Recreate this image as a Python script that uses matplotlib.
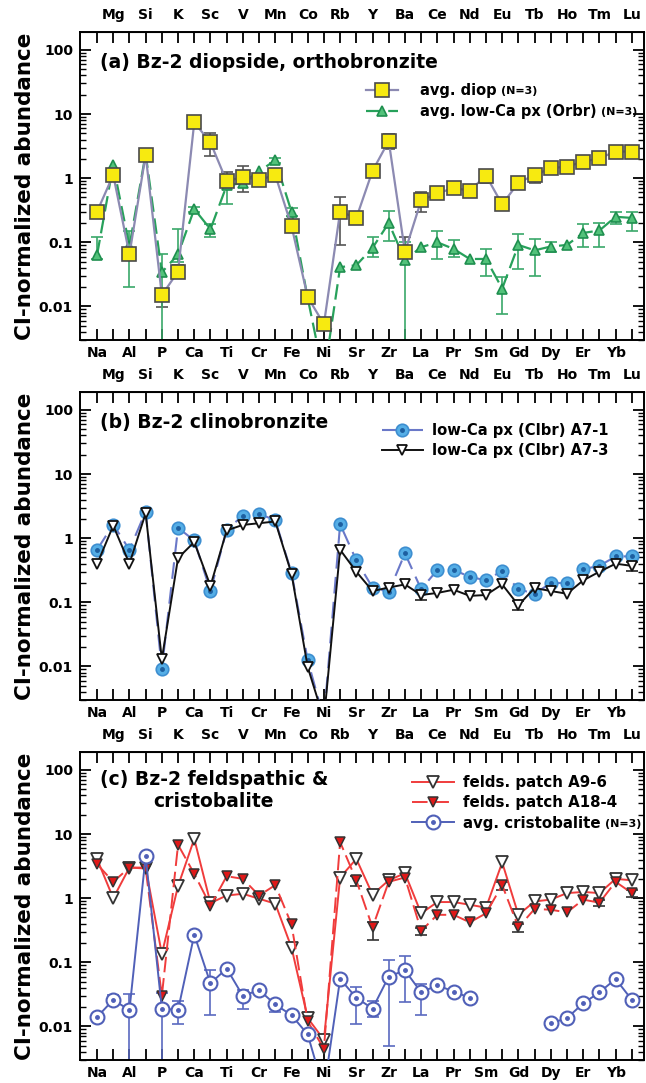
import matplotlib
matplotlib.use('Agg')

import matplotlib.pyplot as plt
import numpy as np
from matplotlib.ticker import FixedLocator, LogLocator, NullFormatter
from matplotlib.legend_handler import HandlerTuple

nan = np.nan

elements = ['Na', 'Mg', 'Al', 'Si', 'P', 'K', 'Ca', 'Sc', 'Ti', 'V', 'Cr', 'Mn', 'Fe', 'Co',
            'Ni', 'Rb', 'Sr', 'Y', 'Zr', 'Ba', 'La', 'Ce', 'Pr', 'Nd', 'Sm', 'Eu', 'Gd', 'Tb',
            'Dy', 'Ho', 'Er', 'Tm', 'Yb', 'Lu']

# (a) averages
diop = [0.30, 1.12, 0.065, 2.3, 0.015, 0.035, 7.4, 3.6, 0.89, 1.05, 0.94, 1.12, 0.18, 0.014,
        0.0053, 0.30, 0.24, 1.3, 3.8, 0.071, 0.45, 0.58, 0.70, 0.64, 1.1, 0.39, 0.85, 1.12,
        1.43, 1.52, 1.8, 2.05, 2.6, 2.6]
diop_lo = [0.25, 1.0, 0.055, nan, 0.0098, 0.028, nan, 2.2, 0.75, 0.6, nan, nan, 0.16, 0.012,
           0.0046, 0.09, nan, 1.1, 2.9, 0.06, 0.3, 0.48, nan, nan, 0.85, nan, nan, 0.85,
           1.25, 1.35, 1.6, nan, 2.4, nan]
diop_hi = [0.35, 1.25, 0.08, nan, 0.019, 0.045, nan, 5.0, 1.24, 1.54, nan, nan, 0.21, 0.016,
           0.006, 0.5, nan, 1.5, 4.9, 0.12, 0.6, 0.7, nan, nan, 1.35, nan, nan, 1.35,
           1.7, 1.7, 2.05, nan, 2.9, nan]

orbr = [0.063, 1.6, 0.087, 2.4, 0.034, 0.065, 0.33, 0.16, 0.77, 0.84, 1.28, 1.9, 0.30, 0.0135,
        0.0008, 0.041, 0.044, 0.082, 0.20, 0.053, 0.084, 0.10, 0.079, 0.055, 0.055, 0.019,
        0.091, 0.075, 0.086, 0.091, 0.14, 0.153, 0.25, 0.24]
orbr_lo = [0.055, nan, 0.02, nan, 0.001, 0.05, 0.3, 0.12, 0.4, nan, nan, 1.7, 0.26, nan,
           nan, nan, nan, 0.06, 0.105, 0.001, nan, 0.055, 0.06, nan, 0.03, 0.0077,
           0.039, 0.03, 0.07, nan, 0.085, 0.085, 0.19, 0.15]
orbr_hi = [0.12, nan, 0.15, nan, 0.065, 0.16, 0.36, 0.19, 1.0, nan, nan, 2.1, 0.34, nan,
           nan, nan, nan, 0.12, 0.31, 0.1, nan, 0.15, 0.11, nan, 0.08, 0.029,
           0.137, 0.112, 0.1, nan, 0.19, 0.2, 0.3, 0.3]

# (b) clinobronzite
a7_1 = [0.66, 1.63, 0.66, 2.6, 0.0092, 1.45, 0.92, 0.15, 1.35, 2.25, 2.4, 1.9, 0.29, 0.0125,
        0.0015, 1.65, 0.45, 0.17, 0.145, 0.58, 0.16, 0.32, 0.32, 0.25, 0.22, 0.31, 0.16,
        0.136, 0.20, 0.20, 0.33, 0.37, 0.52, 0.52]
a7_3 = [0.39, 1.57, 0.40, 2.45, 0.013, 0.49, 0.87, 0.18, 1.32, 1.61, 1.71, 1.82, 0.28, 0.0098,
        0.0015, 0.66, 0.30, 0.15, 0.17, 0.19, 0.13, 0.14, 0.157, 0.126, 0.13, 0.19, 0.09,
        0.167, 0.15, 0.136, 0.22, 0.30, 0.40, 0.37]
a7_3_lo = [nan] * 20 + [0.11] + [nan] * 5 + [0.075] + [nan] * 6 + [0.31]
a7_3_hi = [nan] * 20 + [0.145] + [nan] * 5 + [0.105] + [nan] * 6 + [0.42]

# (c) feldspathic patches and cristobalite
a9_6 = [4.1, 1.0, 3.0, 3.0, 0.135, 1.55, 8.4, 0.84, 1.1, 1.17, 0.98, 0.82, 0.17, 0.0135,
        0.0062, 2.1, 4.1, 1.14, 1.9, 2.45, 0.58, 0.87, 0.87, 0.79, 0.71, 3.6, 0.55, 0.89,
        0.95, 1.2, 1.25, 1.2, 2.0, 1.9]
a18_4 = [3.4, 1.8, 3.0, 2.9, 0.03, 6.8, 2.4, 0.76, 2.2, 2.0, 1.1, 1.6, 0.39, 0.012,
         0.0045, 7.5, 1.9, 0.35, 1.8, 2.1, 0.31, 0.55, 0.55, 0.42, 0.58, 1.6, 0.35, 0.68,
         0.66, 0.6, 0.95, 0.85, 1.8, 1.2]
a18_4_lo = [nan] * 16 + [1.55, 0.22] + [nan] * 2 + [0.27] + [nan] * 4 + [1.35, 0.3] + [nan] * 4 + [0.75, nan, 1.05]
a18_4_hi = [nan] * 16 + [2.2, 0.42] + [nan] * 2 + [0.34] + [nan] * 4 + [1.8, 0.4] + [nan] * 4 + [0.95, nan, 1.35]

crist = [0.014, 0.026, 0.018, 4.5, 0.019, 0.018, 0.27, 0.047, 0.08, 0.03, 0.037, 0.022, 0.015,
         0.0075, 0.001, 0.055, 0.028, 0.019, 0.06, 0.075, 0.034, 0.044, 0.035, 0.028,
         nan, nan, nan, nan, 0.0112, 0.0135, 0.023, 0.034, 0.055, 0.026]
crist_lo = [nan, 0.022, 0.001, nan, 0.001, 0.011, nan, 0.015, nan, 0.019, nan, 0.017, nan,
            nan, nan, nan, 0.011, 0.014, 0.005, 0.024, 0.015] + [nan] * 13
crist_hi = [nan, 0.031, 0.032, nan, 0.033, 0.025, nan, 0.075, nan, 0.037, nan, 0.026, nan,
            nan, nan, nan, 0.041, 0.025, 0.11, 0.125, 0.046] + [nan] * 13

plt.rcParams['font.family'] = ['DejaVu Sans']
plt.rcParams['font.weight'] = 'bold'
plt.rcParams['axes.labelweight'] = 'bold'

x = np.arange(len(elements))
bottom_labels = [e if i % 2 == 0 else '' for i, e in enumerate(elements)]
top_labels = [e if i % 2 == 1 else '' for i, e in enumerate(elements)]

W, H = 646, 1083
fig = plt.figure(figsize=(W / 100, H / 100), dpi=100)


def make_axes(top_px):
    ax = fig.add_axes([80 / W, 1 - (top_px + 308) / H, 564 / W, 308 / H])
    ax.set_yscale('log')
    ax.set_ylim(0.003, 190)
    ax.set_xlim(-1.05, 33.75)
    ax.yaxis.set_major_locator(FixedLocator([0.01, 0.1, 1, 10, 100]))
    ax.set_yticklabels(['0.01', '0.1', '1', '10', '100'])
    ax.yaxis.set_minor_locator(LogLocator(base=10, subs=np.arange(2, 10)))
    ax.yaxis.set_minor_formatter(NullFormatter())
    ax.set_xticks(x, bottom_labels)
    ax.tick_params(axis='y', which='major', direction='in', length=8, width=1.3,
                   right=True, labelsize=10, pad=5)
    ax.tick_params(axis='y', which='minor', direction='in', length=4, width=1, right=True)
    ax.tick_params(axis='x', direction='in', length=8, width=1.3, top=True,
                   labelsize=10, pad=4)
    sec = ax.secondary_xaxis('top')
    sec.set_xticks(x, top_labels)
    sec.tick_params(direction='in', length=0, labelsize=10, pad=7)
    for sp in ax.spines.values():
        sp.set_linewidth(1.4)
    ax.set_ylabel('CI-normalized abundance', fontsize=15.5, fontweight='bold')
    ax.yaxis.set_label_coords(-0.08, 0.5)
    return ax


def add_errors(ax, vals, lo, hi, color):
    v = np.array(vals, dtype=float)
    lo = np.array(lo, dtype=float)
    hi = np.array(hi, dtype=float)
    m = ~np.isnan(lo)
    ax.errorbar(x[m], v[m], yerr=[v[m] - lo[m], hi[m] - v[m]], fmt='none', ecolor=color,
                elinewidth=1.2, capsize=4.5, capthick=1.2, zorder=2)


def add_suffix(text_obj, s):
    r = fig.canvas.get_renderer()
    bb = text_obj.get_window_extent(r)
    fig.text((bb.x1 + 4) / W, (bb.y0 + bb.y1) / 2 / H - 0.001, s, fontsize=8, va='center')


# ---- (a)
ax = make_axes(32)
add_errors(ax, diop, diop_lo, diop_hi, '#555555')
add_errors(ax, orbr, orbr_lo, orbr_hi, '#3aa86a')
l1, = ax.plot(x, diop, '-', color='#8c8ab2', lw=1.6, marker='s', ms=10,
              mfc='#f7ea10', mec='#4a4a4a', mew=1.2, zorder=4)
l2, = ax.plot(x, orbr, ls=(0, (7, 3)), color='#27a15b', lw=1.6, marker='^', ms=7.5,
              mfc='#52c27a', mec='#1f8f4f', mew=1.2, zorder=3)
ax.text(0.035, 0.90, '(a) Bz-2 diopside, orthobronzite', transform=ax.transAxes,
        fontsize=13.5, va='center', ha='left')
leg_a = ax.legend([l1, l2], ['avg. diop', 'avg. low-Ca px (Orbr)'], loc='upper left',
                  bbox_to_anchor=(0.507, 0.835), frameon=False, borderpad=0, borderaxespad=0,
                  handlelength=2.2, handletextpad=1.5, labelspacing=0.4, fontsize=10.5)

# ---- (b)
ax = make_axes(392)
add_errors(ax, a7_3, a7_3_lo, a7_3_hi, '#222222')
b1, = ax.plot(x, a7_1, ls=(0, (8, 4)), color='#6a78c8', lw=1.5, marker='o', ms=9,
              mfc='#55aee6', mec='#3d8ed0', mew=1.2, zorder=3)
b1d, = ax.plot(x, a7_1, ls='none', marker='o', ms=2.5, mfc='#1d5fa0', mec='#1d5fa0', zorder=3)
b2, = ax.plot(x, a7_3, '-', color='#111111', lw=1.4, marker='v', ms=7,
              mfc='white', mec='#111111', mew=1.3, zorder=4)
ax.text(0.035, 0.90, '(b) Bz-2 clinobronzite', transform=ax.transAxes,
        fontsize=13.5, va='center', ha='left')
ax.legend([(b1, b1d), b2], ['low-Ca px (Clbr) A7-1', 'low-Ca px (Clbr) A7-3'],
          handler_map={tuple: HandlerTuple(ndivide=1)}, loc='upper left',
          bbox_to_anchor=(0.535, 0.898), frameon=False, borderpad=0, borderaxespad=0,
          handlelength=2.8, handletextpad=0.6, labelspacing=0.3, fontsize=10.6)

# ---- (c)
ax = make_axes(752)
add_errors(ax, a18_4, a18_4_lo, a18_4_hi, '#333333')
add_errors(ax, crist, crist_lo, crist_hi, '#5a6ac0')
c1, = ax.plot(x, a9_6, '-', color='#f03c3c', lw=1.4, marker='v', ms=8.5,
              mfc='white', mec='#333333', mew=1.3, zorder=3)
c2, = ax.plot(x, a18_4, ls=(0, (8, 3)), color='#f03c3c', lw=1.4, marker='v', ms=7.5,
              mfc='#e01818', mec='#333333', mew=1.1, zorder=3)
c3, = ax.plot(x, crist, '-', color='#5060b8', lw=1.4, marker='o', ms=10,
              mfc='white', mec='#5060b8', mew=1.5, zorder=4)
c3d, = ax.plot(x, crist, ls='none', marker='o', ms=2.5, mfc='#5060b8', mec='#5060b8', zorder=4)
ax.text(0.035, 0.875, '(c) Bz-2 feldspathic &\ncristobalite', transform=ax.transAxes,
        fontsize=13.5, va='center', ha='left', multialignment='center', linespacing=1.15)
leg_c = ax.legend([c1, c2, (c3, c3d)], ['felds. patch A9-6', 'felds. patch A18-4',
                                        'avg. cristobalite'],
                  handler_map={tuple: HandlerTuple(ndivide=1)}, loc='upper left',
                  bbox_to_anchor=(0.589, 0.925), frameon=False, borderpad=0, borderaxespad=0,
                  handlelength=2.8, handletextpad=0.6, labelspacing=0.35, fontsize=10.8)

fig.canvas.draw()
add_suffix(leg_a.get_texts()[0], '(N=3)')
add_suffix(leg_a.get_texts()[1], '(N=3)')
add_suffix(leg_c.get_texts()[2], '(N=3)')

fig.savefig('out.png', dpi=100)
